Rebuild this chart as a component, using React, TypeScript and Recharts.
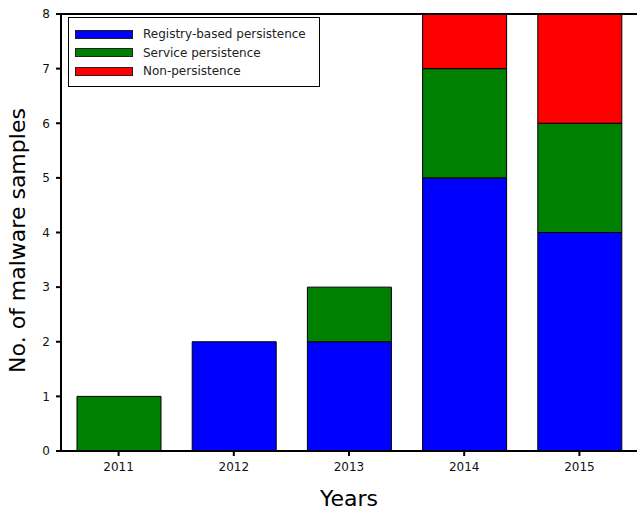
import { Bar, BarChart, ReferenceLine, XAxis, YAxis } from "recharts";

const years = ["2011", "2012", "2013", "2014", "2015"];
const registryBased = [0, 2, 2, 5, 4];
const service = [1, 0, 1, 2, 2];
const nonPersistence = [0, 0, 0, 1, 2];
const yTicks = [0, 1, 2, 3, 4, 5, 6, 7, 8];

const series = [
  { key: "registry", name: "Registry-based persistence", color: "#0000ff" },
  { key: "service", name: "Service persistence", color: "#008000" },
  { key: "non", name: "Non-persistence", color: "#ff0000" },
];

const data = years.map((year, i) => ({
  year,
  registry: registryBased[i],
  service: service[i],
  non: nonPersistence[i],
}));

const font = "'DejaVu Sans', sans-serif";

// legend sits inside the plot, top-left, like the matplotlib original
function LegendBox() {
  return (
    <div
      style={{
        position: "absolute",
        left: 68,
        top: 17,
        border: "1px solid #000",
        background: "#fff",
        width: 252,
        height: 70,
        boxSizing: "border-box",
        padding: "7px 0 0 6px",
        fontFamily: font,
        fontSize: 12,
        color: "#222",
      }}
    >
      {series.map((s) => (
        <div
          key={s.key}
          style={{ display: "flex", alignItems: "center", height: 18.5 }}
        >
          <div
            style={{
              width: 58,
              height: 9,
              background: s.color,
              border: "1px solid #222",
              boxSizing: "border-box",
              marginRight: 10,
            }}
          />
          <span>{s.name}</span>
        </div>
      ))}
    </div>
  );
}

function YLabel(props: any) {
  const vb = props.viewBox || {};
  const cx = 17;
  const cy = (vb.y ?? 14) + (vb.height ?? 437) / 2 + 8;
  return (
    <text
      x={cx}
      y={cy}
      transform={`rotate(-90 ${cx} ${cy})`}
      textAnchor="middle"
      dominantBaseline="central"
      fill="#000"
      fontSize={22}
      fontFamily={font}
    >
      No. of malware samples
    </text>
  );
}

export default function App() {
  return (
    <div style={{ position: "absolute", left: 0, top: 0 }}>
      <BarChart
        width={637}
        height={509}
        data={data}
        margin={{ top: 14, right: 0, bottom: 0, left: 0 }}
      >
        <XAxis
          dataKey="year"
          height={58}
          tickSize={5}
          tickMargin={6}
          stroke="#000"
          strokeWidth={2}
          tick={{ fill: "#111", fontSize: 12, fontFamily: font }}
          label={{
            value: "Years",
            position: "insideBottom",
            offset: 3,
            fill: "#000",
            fontSize: 22,
            fontFamily: font,
          }}
        />
        <YAxis
          width={61}
          domain={[0, 8]}
          ticks={yTicks}
          interval={0}
          tickSize={5}
          tickMargin={6}
          stroke="#000"
          strokeWidth={2}
          tick={{ fill: "#111", fontSize: 12, fontFamily: font }}
          label={<YLabel />}
        />
        <ReferenceLine y={8} stroke="#000" strokeWidth={2} />
        {series.map((s) => (
          <Bar
            key={s.key}
            dataKey={s.key}
            name={s.name}
            stackId="a"
            fill={s.color}
            stroke="#000"
            strokeWidth={1}
            barSize={84}
            isAnimationActive={false}
          />
        ))}
      </BarChart>
      <LegendBox />
    </div>
  );
}
